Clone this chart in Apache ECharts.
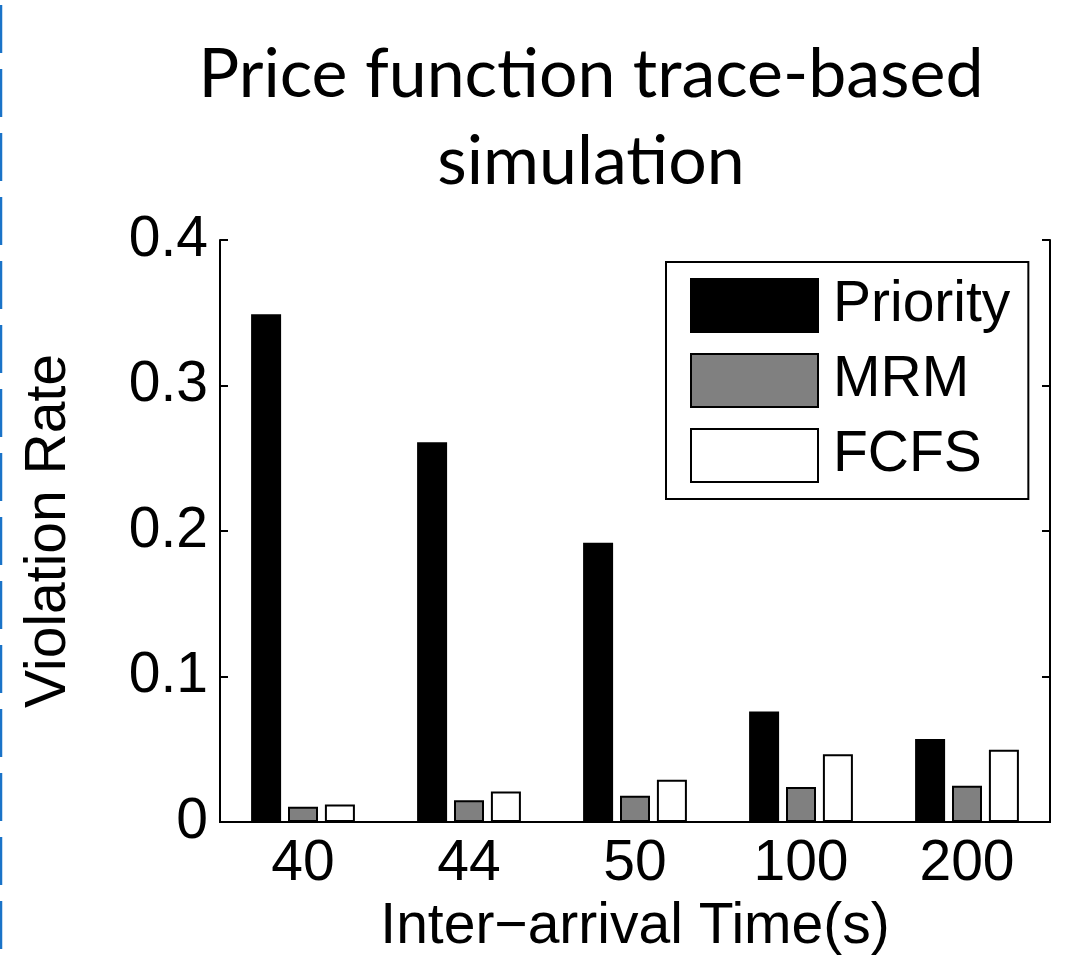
<!DOCTYPE html>
<html>
<head>
<meta charset="utf-8">
<script src="https://cdn.jsdelivr.net/npm/echarts@6/dist/echarts.min.js"></script>
<style>
html,body{margin:0;padding:0;background:#fff;}
#chart{width:1065px;height:964px;}
</style>
</head>
<body>
<div id="chart"></div>
<script>
const categories = ['40', '44', '50', '100', '200'];
const priority = [0.349, 0.261, 0.192, 0.076, 0.057];
const mrm = [0.0105, 0.015, 0.018, 0.024, 0.025];
const fcfs = [0.012, 0.021, 0.029, 0.0465, 0.0497];
const yTicks = [0, 0.1, 0.2, 0.3, 0.4];
const titleLines = ['Price function trace-based', 'simulation'];

const chart = echarts.init(document.getElementById('chart'));
const axisFont = {fontFamily: 'Liberation Sans', fontSize: 57, color: '#000'};
const barBorder = {borderColor: '#000', borderWidth: 2};

chart.setOption({
  animation: false,
  backgroundColor: '#fff',
  title: {
    text: titleLines.join('\n'),
    left: 586, textAlign: 'center', top: 27,
    textStyle: {fontFamily: 'Lato', fontSize: 68, fontWeight: 'normal', color: '#000', lineHeight: 87}
  },
  graphic: [{
    type: 'line', shape: {x1: 1, y1: 5, x2: 1, y2: 964},
    style: {stroke: '#1a73c8', lineWidth: 2.5, lineDash: [48, 16]}
  }],
  legend: {
    orient: 'vertical', left: 666, top: 262,
    borderColor: '#000', borderWidth: 2, borderRadius: 0,
    padding: [15, 18, 15, 24],
    itemWidth: 127, itemHeight: 53, itemGap: 18, icon: 'rect',
    textStyle: Object.assign({padding: [0, 0, 0, 10]}, axisFont),
    data: ['Priority', 'MRM', 'FCFS']
  },
  grid: {left: 220, right: 15, top: 240, bottom: 142, containLabel: false},
  xAxis: [{
    type: 'category', data: categories, position: 'bottom',
    axisLine: {lineStyle: {color: '#000', width: 2}},
    axisTick: {inside: true, alignWithLabel: true, length: 8, lineStyle: {color: '#000', width: 2}},
    axisLabel: Object.assign({margin: 14}, axisFont),
    name: 'Inter\u2212arrival Time(s)', nameLocation: 'middle', nameGap: 77,
    nameTextStyle: axisFont
  }, {
    type: 'category', data: categories, position: 'top',
    axisLine: {lineStyle: {color: '#000', width: 2}},
    axisTick: {inside: true, alignWithLabel: true, length: 8, lineStyle: {color: '#000', width: 2}},
    axisLabel: {show: false}
  }],
  yAxis: [{
    type: 'value', min: yTicks[0], max: yTicks[yTicks.length - 1], interval: 0.1,
    axisLine: {show: true, lineStyle: {color: '#000', width: 2}},
    axisTick: {show: true, inside: true, length: 8, lineStyle: {color: '#000', width: 2}},
    splitLine: {show: false},
    axisLabel: Object.assign({margin: 12}, axisFont),
    name: 'Violation Rate', nameLocation: 'middle', nameGap: 142, nameRotate: 90,
    nameTextStyle: axisFont
  }, {
    type: 'value', min: yTicks[0], max: yTicks[yTicks.length - 1], interval: 0.1, position: 'right',
    axisLine: {show: true, lineStyle: {color: '#000', width: 2}},
    axisTick: {show: true, inside: true, length: 8, lineStyle: {color: '#000', width: 2}},
    splitLine: {show: false},
    axisLabel: {show: false}
  }],
  series: [
    {name: 'Priority', type: 'bar', data: priority, barWidth: 30, barGap: '23%',
     itemStyle: Object.assign({color: '#000'}, barBorder)},
    {name: 'MRM', type: 'bar', data: mrm, barWidth: 30, barGap: '23%',
     itemStyle: Object.assign({color: '#808080'}, barBorder)},
    {name: 'FCFS', type: 'bar', data: fcfs, barWidth: 30, barGap: '23%',
     itemStyle: Object.assign({color: '#fff'}, barBorder)}
  ]
});
</script>
</body>
</html>
